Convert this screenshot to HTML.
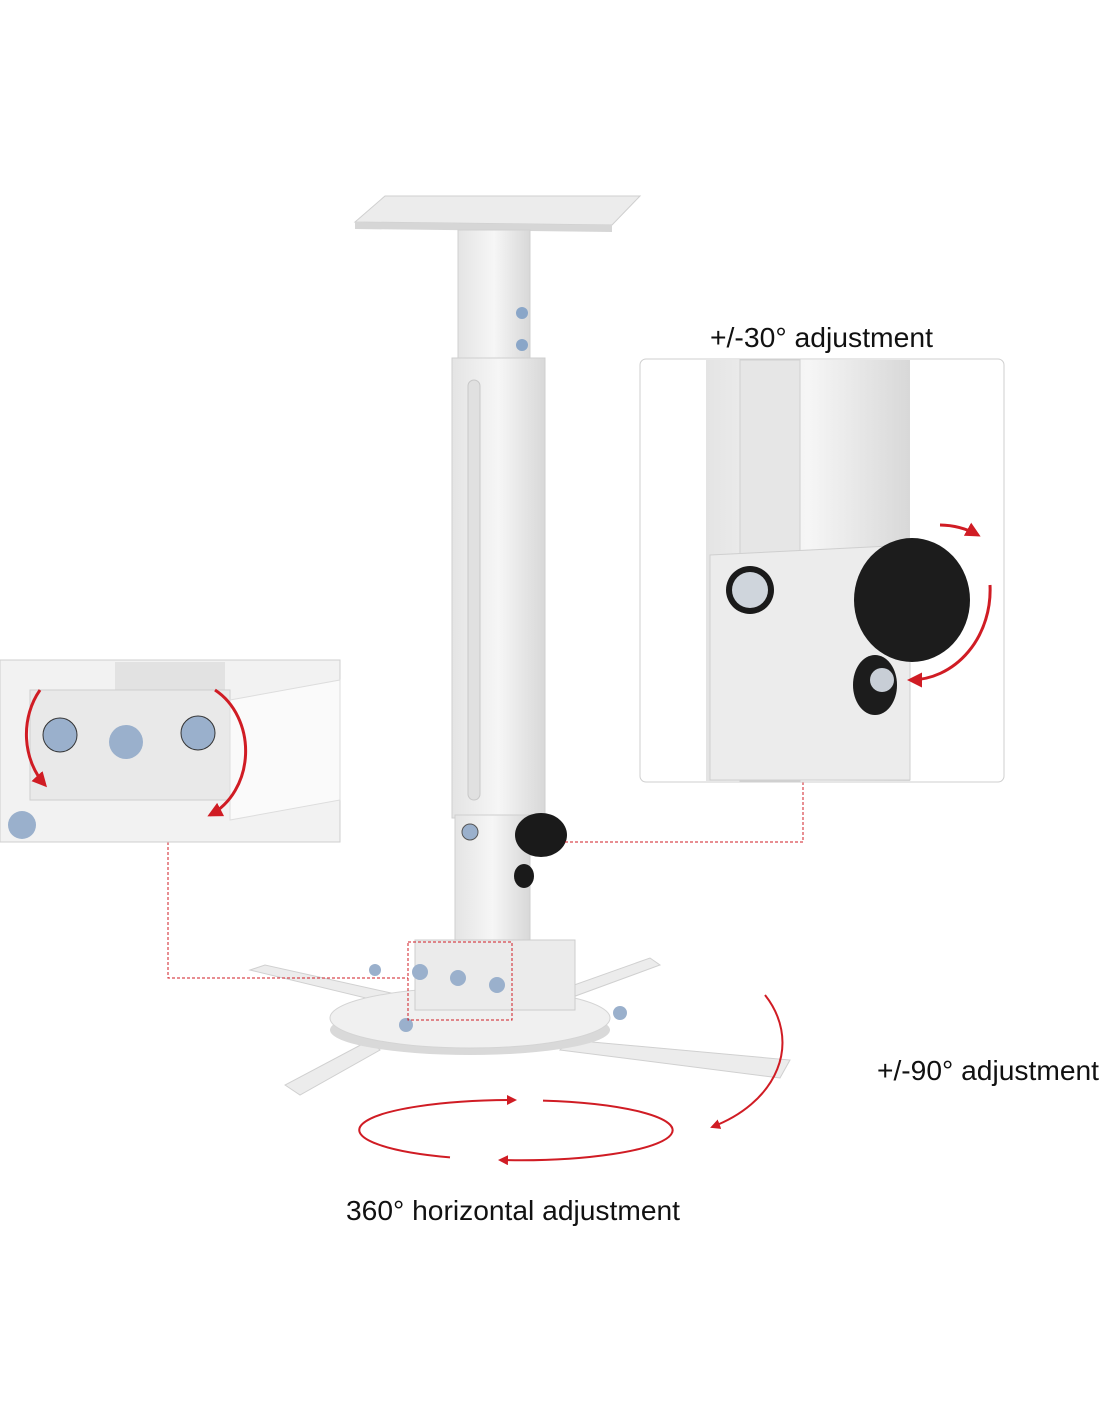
<!DOCTYPE html>
<html><head><meta charset="utf-8"><style>
html,body{margin:0;padding:0;background:#fff;}
svg{display:block;}
text{font-family:"Liberation Sans",sans-serif;fill:#111;}
</style></head><body>
<svg width="1100" height="1422" viewBox="0 0 1100 1422" xmlns="http://www.w3.org/2000/svg">
<defs>
<marker id="ar" viewBox="0 0 10 10" refX="8" refY="5" markerWidth="5" markerHeight="5" orient="auto"><path d="M0,0 L10,5 L0,10 z" fill="#d01c24"/></marker>
<linearGradient id="pole" x1="0" x2="1"><stop offset="0" stop-color="#e4e4e4"/><stop offset="0.5" stop-color="#f6f6f6"/><stop offset="1" stop-color="#d8d8d8"/></linearGradient>
</defs>
<polygon points="355,222 385,196 640,196 612,225" fill="#ececec" stroke="#cfcfcf"/>
<polygon points="355,222 612,225 612,232 355,229" fill="#d6d6d6"/>
<rect x="458" y="230" width="72" height="130" fill="url(#pole)" stroke="#d0d0d0"/>
<circle cx="522" cy="313" r="6" fill="#8aa6c8"/><circle cx="522" cy="345" r="6" fill="#8aa6c8"/>
<rect x="452" y="358" width="93" height="460" fill="url(#pole)" stroke="#cfcfcf"/>
<rect x="468" y="380" width="12" height="420" rx="6" fill="#e0e0e0" stroke="#c8c8c8"/>
<rect x="455" y="815" width="75" height="130" fill="url(#pole)" stroke="#cfcfcf"/>
<circle cx="470" cy="832" r="8" fill="#9ab0cc" stroke="#555"/>
<ellipse cx="541" cy="835" rx="26" ry="22" fill="#1a1a1a"/>
<ellipse cx="524" cy="876" rx="10" ry="12" fill="#1a1a1a"/>
<polygon points="250,970 265,965 400,995 395,1005" fill="#ececec" stroke="#d0d0d0"/>
<polygon points="285,1085 300,1095 380,1050 370,1040" fill="#ececec" stroke="#d0d0d0"/>
<polygon points="560,1050 570,1040 790,1060 780,1078" fill="#ececec" stroke="#d0d0d0"/>
<polygon points="560,990 570,998 660,965 650,958" fill="#ececec" stroke="#d0d0d0"/>
<ellipse cx="470" cy="1030" rx="140" ry="25" fill="#d9d9d9"/>
<ellipse cx="470" cy="1018" rx="140" ry="30" fill="#f0f0f0" stroke="#d4d4d4"/>
<rect x="415" y="940" width="160" height="70" fill="#ebebeb" stroke="#ccc"/>
<circle cx="420" cy="972" r="8" fill="#9ab0cc"/><circle cx="458" cy="978" r="8" fill="#9ab0cc"/><circle cx="497" cy="985" r="8" fill="#9ab0cc"/>
<circle cx="406" cy="1025" r="7" fill="#9ab0cc"/><circle cx="620" cy="1013" r="7" fill="#9ab0cc"/><circle cx="375" cy="970" r="6" fill="#9ab0cc"/>
<rect x="408" y="942" width="104" height="78" fill="none" stroke="#d01c24" stroke-dasharray="3,2"/>
<polyline points="168,842 168,978 408,978" fill="none" stroke="#d01c24" stroke-dasharray="3,2"/>
<polyline points="565,842 803,842 803,782" fill="none" stroke="#d01c24" stroke-dasharray="3,2"/>
<rect x="640" y="359" width="364" height="423" rx="6" fill="#fff" stroke="#cfcfcf"/>
<rect x="706" y="360" width="204" height="421" fill="url(#pole)"/>
<rect x="740" y="360" width="60" height="421" fill="#e6e6e6" stroke="#d0d0d0"/>
<polygon points="710,555 910,545 910,780 710,780" fill="#ececec" stroke="#cfcfcf"/>
<circle cx="750" cy="590" r="24" fill="#1a1a1a"/><circle cx="750" cy="590" r="18" fill="#cfd5dc"/>
<ellipse cx="912" cy="600" rx="58" ry="62" fill="#1c1c1c"/>
<ellipse cx="875" cy="685" rx="22" ry="30" fill="#1c1c1c"/><circle cx="882" cy="680" r="12" fill="#c8ced6"/>
<path d="M940,525 A80,80 0 0 1 978,535" fill="none" stroke="#d01c24" stroke-width="3" marker-end="url(#ar)"/>
<path d="M990,585 A80,90 0 0 1 910,680" fill="none" stroke="#d01c24" stroke-width="3" marker-end="url(#ar)"/>
<rect x="0" y="660" width="340" height="182" fill="#f2f2f2" stroke="#cfcfcf"/>
<rect x="115" y="662" width="110" height="40" fill="#e2e2e2"/>
<polygon points="30,690 230,690 230,800 30,800" fill="#e9e9e9" stroke="#cfcfcf"/>
<polygon points="230,700 340,680 340,800 230,820" fill="#fafafa" stroke="#ddd"/>
<circle cx="60" cy="735" r="17" fill="#9ab0cc" stroke="#333"/><circle cx="126" cy="742" r="17" fill="#9ab0cc"/><circle cx="198" cy="733" r="17" fill="#9ab0cc" stroke="#333"/>
<circle cx="22" cy="825" r="14" fill="#9ab0cc"/>
<path d="M40,690 A60,70 0 0 0 45,785" fill="none" stroke="#d01c24" stroke-width="3" marker-end="url(#ar)"/>
<path d="M215,690 A60,70 0 0 1 210,815" fill="none" stroke="#d01c24" stroke-width="3" marker-end="url(#ar)"/>
<path d="M450,1157.4 A153,30 0 0 1 515,1100" fill="none" stroke="#d01c24" stroke-width="2" marker-end="url(#ar)"/>
<path d="M543,1100.6 A153,30 0 0 1 500,1160" fill="none" stroke="#d01c24" stroke-width="2" marker-end="url(#ar)"/>
<path d="M765,995 A130,95 0 0 1 712,1127" fill="none" stroke="#d01c24" stroke-width="2" marker-end="url(#ar)"/>
<text x="710" y="347" font-size="28" textLength="223" lengthAdjust="spacingAndGlyphs">+/-30° adjustment</text>
<text x="877" y="1080" font-size="28" textLength="222" lengthAdjust="spacingAndGlyphs">+/-90° adjustment</text>
<text x="346" y="1220" font-size="28" textLength="334" lengthAdjust="spacingAndGlyphs">360° horizontal adjustment</text>
</svg>
</body></html>
